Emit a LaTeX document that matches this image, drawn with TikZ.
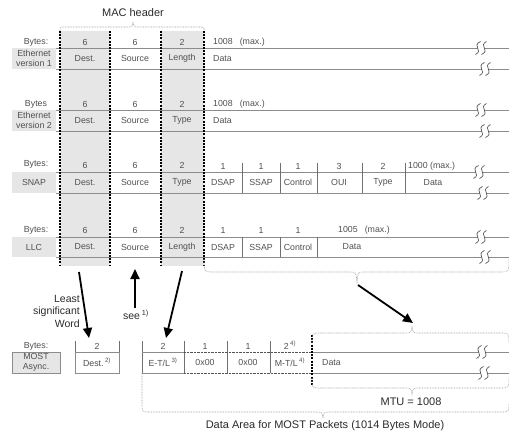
\documentclass[tikz,border=0pt]{standalone}
\usepackage{fontspec}
\setmainfont{Liberation Sans}
\usetikzlibrary{arrows.meta}
\definecolor{shadegray}{HTML}{E6E6E6}
\definecolor{rulegray}{HTML}{8C8C8C}
\definecolor{txt}{HTML}{505050}
\definecolor{txtdark}{HTML}{2A2A2A}
\definecolor{brc}{HTML}{A0A0A0}
\newcommand\brk[2]{%
 \fill[white] (#1-0.5,#2-6.5) .. controls (#1-10,#2-2) and (#1+3,#2+2) .. (#1-5.5,#2+6.5) -- (#1+0.5,#2+6.5) .. controls (#1+10,#2+2) and (#1-3,#2-2) .. (#1+5.5,#2-6.5) -- cycle;
 \draw[brkline] (#1-0.5,#2-6.5) .. controls (#1-10,#2-2) and (#1+3,#2+2) .. (#1-5.5,#2+6.5);
 \draw[brkline] (#1+5.5,#2-6.5) .. controls (#1-3,#2-2) and (#1+10,#2+2) .. (#1+0.5,#2+6.5);
}
\begin{document}
\begin{tikzpicture}[x=1pt,y=-1pt,
  lbl/.style={font=\fontsize{8.8}{10}\selectfont, text=txt, inner sep=0pt},
  big/.style={font=\fontsize{11}{13}\selectfont, text=txtdark, inner sep=0pt},
  rowline/.style={draw=rulegray, line width=0.8pt},
  sepline/.style={draw=rulegray!80!black, line width=0.7pt},
  macline/.style={draw=black, line width=1.3pt, dash pattern=on 2pt off 1.2pt},
  bracepath/.style={draw=brc, line width=0.6pt, dash pattern=on 0.8pt off 0.8pt},
  fat/.style={draw=black, line width=1.8pt, -{Triangle[length=10pt,width=9pt]}},
  cellbox/.style={draw=rulegray, line width=0.7pt},
  dotcell/.style={draw=rulegray!60!black, line width=0.7pt, dash pattern=on 0.7pt off 0.7pt},
  brkline/.style={draw=rulegray!60!black, line width=0.7pt}
]
\useasboundingbox (0,0) rectangle (509,433);
% ---- shading of MAC header columns
\fill[shadegray] (60,31) rectangle (110,266);
\fill[shadegray] (161,31) rectangle (204,266);
% ---- label boxes
\fill[shadegray] (12,48) rectangle (56,69);
\fill[shadegray] (12,110) rectangle (56,131);
\fill[shadegray] (12,172) rectangle (56,193);
\fill[shadegray] (12,237) rectangle (56,257);
% ---- MAC header brace
\draw[bracepath] (60,34) -- (60,31) .. controls (60,27) .. (64,27) -- (128,27) .. controls (132,27) .. (133,22) .. controls (134,27) .. (138,27) -- (200,27) .. controls (204,27) .. (204,31) -- (204,34);
\node[big] (mac) at (133,13) {MAC header};
% ---- row lines
\foreach \yy in {48,69,110,131,172,193,237,257} {\draw[rowline] (56,\yy) -- (509,\yy);}
% ---- SNAP separators
\foreach \xx in {242,280,317,362,405} {\draw[sepline] (\xx,163) -- (\xx,193);}
% ---- LLC separators
\foreach \xx in {242,280,317} {\draw[sepline] (\xx,237) -- (\xx,257);}
% ---- breaks
\brk{481}{48}\brk{485}{69}
\brk{481}{110}\brk{485}{131}
\brk{479}{172}\brk{483}{193}
\brk{481}{237}\brk{485}{257}
% ---- MAC dashed lines
\foreach \xx in {60,110,161,204} {\draw[macline] (\xx,31) -- (\xx,266);}
% ---- Row 1: Ethernet v1
\node[lbl] (b1) at (36,42) {Bytes:};
\node[lbl, align=center, font=\fontsize{8.8}{9.6}\selectfont] (l1) at (34,58.5) {Ethernet\\version 1};
\node[lbl] (h1a) at (85,42) {6};
\node[lbl] (h1b) at (135,42) {6};
\node[lbl] (h1c) at (182,42) {2};
\node[lbl, anchor=west] (h1d) at (213,42) {1008\hspace{7pt}(max.)};
\node[lbl] (c1a) at (85,58.5) {Dest.};
\node[lbl] (c1b) at (135,58.5) {Source};
\node[lbl] (c1c) at (182,58.5) {Length};
\node[lbl, anchor=west] (c1d) at (213,58.5) {Data};
% ---- Row 2: Ethernet v2
\node[lbl] (b2) at (36,104) {Bytes};
\node[lbl, align=center, font=\fontsize{8.8}{9.6}\selectfont] (l2) at (34,120.5) {Ethernet\\version 2};
\node[lbl] (h2a) at (85,104) {6};
\node[lbl] (h2b) at (135,104) {6};
\node[lbl] (h2c) at (182,104) {2};
\node[lbl, anchor=west] (h2d) at (213,104) {1008\hspace{7pt}(max.)};
\node[lbl] (c2a) at (85,120.5) {Dest.};
\node[lbl] (c2b) at (135,120.5) {Source};
\node[lbl] (c2c) at (182,120.5) {Type};
\node[lbl, anchor=west] (c2d) at (213,120.5) {Data};
% ---- Row 3: SNAP
\node[lbl] (b3) at (36,164) {Bytes:};
\node[lbl] (l3) at (34,182.5) {SNAP};
\node[lbl] (h3a) at (85,165) {6};
\node[lbl] (h3b) at (135,165) {6};
\node[lbl] (h3c) at (182,165) {2};
\node[lbl] (h3d) at (223,166) {1};
\node[lbl] (h3e) at (261,166) {1};
\node[lbl] (h3f) at (298,166) {1};
\node[lbl] (h3g) at (339,166) {3};
\node[lbl] (h3h) at (383,166) {2};
\node[lbl, anchor=west] (h3i) at (408,166) {1000 (max.)};
\node[lbl] (c3a) at (85,182.5) {Dest.};
\node[lbl] (c3b) at (135,182.5) {Source};
\node[lbl] (c3c) at (182,182.5) {Type};
\node[lbl] (c3d) at (223,182.5) {DSAP};
\node[lbl] (c3e) at (261,182.5) {SSAP};
\node[lbl] (c3f) at (298,182.5) {Control};
\node[lbl] (c3g) at (339,182.5) {OUI};
\node[lbl] (c3h) at (383,182.5) {Type};
\node[lbl] (c3i) at (433,182.5) {Data};
% ---- Row 4: LLC
\node[lbl] (b4) at (36,230) {Bytes:};
\node[lbl] (l4) at (34,247) {LLC};
\node[lbl] (h4a) at (85,230) {6};
\node[lbl] (h4b) at (135,230) {6};
\node[lbl] (h4c) at (182,230) {2};
\node[lbl] (h4d) at (223,230) {1};
\node[lbl] (h4e) at (261,230) {1};
\node[lbl] (h4f) at (298,230) {1};
\node[lbl, anchor=west] (h4g) at (338,230) {1005\hspace{7pt}(max.)};
\node[lbl] (c4a) at (85,247) {Dest.};
\node[lbl] (c4b) at (135,247) {Source};
\node[lbl] (c4c) at (182,247) {Length};
\node[lbl] (c4d) at (223,247) {DSAP};
\node[lbl] (c4e) at (261,247) {SSAP};
\node[lbl] (c4f) at (298,247) {Control};
\node[lbl] (c4g) at (352,247) {Data};
% ---- brace below LLC payload
\draw[bracepath] (204,259) .. controls (204,272) .. (214,272) -- (350,272) .. controls (356,272) .. (357,282) .. controls (358,272) .. (364,272) -- (499,272) .. controls (509,272) .. (509,259);
\coordinate (llctip) at (358,285);
% ---- MOST row
\node[lbl] (b5) at (36,346) {Bytes:};
\draw[cellbox, fill=shadegray] (12,352) rectangle (60,373);
\node[lbl, align=center, font=\fontsize{8.8}{9.6}\selectfont] (l5) at (36,362.5) {MOST\\Async.};
\draw[cellbox] (75,352) rectangle (119,373);
\draw[sepline] (75,341) -- (75,352) (119,341) -- (119,352);
\node[lbl] (h5a) at (97,346) {2};
\node[lbl] (c5a) at (97,362.5) {Dest.\,\textsuperscript{2)}};
% E-T/L group
\draw[sepline] (142,341) -- (142,373);
\draw[cellbox] (142,352) -- (184,352) (142,373) -- (184,373);
\foreach \xx in {184,227,270} {\draw[sepline] (\xx,341) -- (\xx,373);}
\draw[dotcell] (184,352) -- (312,352) (184,373) -- (312,373);
\node[lbl] (h5b) at (163,346) {2};
\node[lbl] (h5c) at (205,346) {1};
\node[lbl] (h5d) at (248,346) {1};
\node[lbl] (h5e) at (290,345) {2\,\textsuperscript{4)}};
\node[lbl] (c5b) at (163,362.5) {E-T/L\,\textsuperscript{3)}};
\node[lbl] (c5c) at (205,362.5) {0x00};
\node[lbl] (c5d) at (248,362.5) {0x00};
\node[lbl] (c5e) at (290,362.5) {M-T/L\,\textsuperscript{4)}};
% Data part
\draw[rowline] (312,352) -- (509,352) (312,373) -- (509,373);
\brk{482}{352}\brk{484}{373}
\node[lbl, anchor=west] (c5f) at (322,362.5) {Data};
\draw[macline] (312,335) -- (312,385);
% brace above MOST data
\draw[bracepath] (312,343) .. controls (312,333) .. (320,333) -- (405,333) .. controls (411,333) .. (412,327) .. controls (413,333) .. (419,333) -- (500,333) .. controls (509,333) .. (509,343);
\coordinate (mosttip) at (413,323);
% MTU brace
\draw[bracepath] (312,378) .. controls (312,388) .. (320,388) -- (405,388) .. controls (411,388) .. (412,394) .. controls (413,388) .. (419,388) -- (500,388) .. controls (509,388) .. (509,378);
\node[big] (mtu) at (411,402) {MTU = 1008};
% Data area brace
\draw[bracepath] (142,373) -- (142,403) .. controls (142,412) .. (150,412) -- (316,412) .. controls (322,412) .. (323,418) .. controls (324,412) .. (330,412) -- (500,412) .. controls (509,412) .. (509,403);
\node[big] (darea) at (325,426) {Data Area for MOST Packets (1014 Bytes Mode)};
% ---- arrows
\coordinate (dsrc) at (79,272);
\coordinate (ddst) at (89,338);
\coordinate (ssrc) at (135,308);
\coordinate (sdst) at (135,269);
\coordinate (tsrc) at (182,271);
\coordinate (tdst) at (166,338);
\draw[fat] (dsrc) -- (ddst);
\draw[fat] (ssrc) -- (sdst);
\draw[fat] (tsrc) -- (tdst);
\draw[fat] (llctip) -- (mosttip);
\node[big, align=right, anchor=east, font=\fontsize{10.5}{12.5}\selectfont] (lsw) at (80,311) {Least\\significant\\Word};
\node[big, font=\fontsize{10.5}{12.5}\selectfont] (see) at (136,315) {see\,\textsuperscript{1)}};
\end{tikzpicture}
\end{document}
